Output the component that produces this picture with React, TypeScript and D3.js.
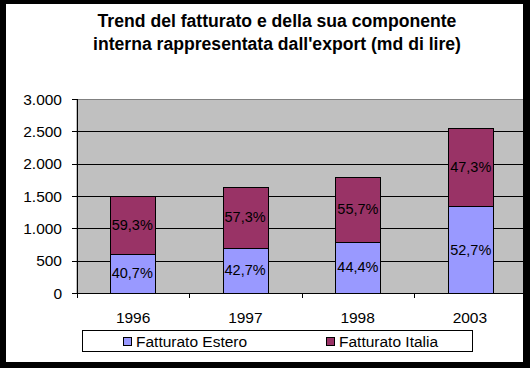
import React from "react";
import * as d3 from "d3";

const categories = ["1996", "1997", "1998", "2003"];
const estero = [610, 700, 795, 1344];
const italia = [890, 940, 995, 1206];
const esteroPct = ["40,7%", "42,7%", "44,4%", "52,7%"];
const italiaPct = ["59,3%", "57,3%", "55,7%", "47,3%"];
const yTicks = [0, 500, 1000, 1500, 2000, 2500, 3000];
const titleLines = [
  "Trend del fatturato e della sua componente",
  "interna rappresentata dall'export (md di lire)",
];
const seriesNames = ["Fatturato Estero", "Fatturato Italia"];
const colors = ["#9999FF", "#993366"];

const W = 530;
const H = 368;
const font = "'Liberation Sans', Arial, sans-serif";

export default function App() {
  const plotL = 77, plotR = 526, plotT = 99, plotB = 293;
  const x = d3.scaleBand<string>().domain(categories).range([plotL, plotR]).paddingInner(0.6).paddingOuter(0.29);
  const xc = d3.scaleBand<string>().domain(categories).range([plotL, plotR]);
  const y = d3.scaleLinear().domain([0, 3000]).range([plotB, plotT]);
  const fmt = (v: number) => d3.format(",")(v).replace(/,/g, ".");
  const stacks = categories.map((c, i) => {
    const e0 = 0, e1 = estero[i], i1 = estero[i] + italia[i];
    return { c, segs: [[e0, e1, esteroPct[i]], [e1, i1, italiaPct[i]]] as [number, number, string][] };
  });
  const fL = 6, fT = 4, fR = 523, fB = 362;
  return (
    <svg width={W} height={H} style={{ position: "absolute", left: 0, top: 0 }} fontFamily={font}>
      <rect x={0} y={0} width={W} height={H} fill="#fff" />
      {titleLines.map((t, i) => (
        <text key={i} x={277} y={27 + i * 23} textAnchor="middle" fontWeight="bold" fontSize={17.6} fill="#000">{t}</text>
      ))}
      <rect x={plotL} y={plotT + 0.5} width={plotR - plotL + 4} height={plotB - plotT} fill="#C0C0C0" stroke="#808080" strokeWidth={1} />
      {yTicks.filter(v => v > 0 && v < 3000).map(v => (
        <line key={v} x1={plotL} x2={plotR} y1={Math.round(y(v)) + 0.5} y2={Math.round(y(v)) + 0.5} stroke="#000" />
      ))}
      {stacks.map((s, i) => s.segs.map((g, j) => (
        <g key={i + "-" + j}>
          <rect x={Math.round(x(s.c)!) + 0.5} y={Math.round(y(g[1])) + 0.5} width={Math.round(x.bandwidth())}
            height={Math.round(y(g[0])) - Math.round(y(g[1]))} fill={colors[j]} stroke="#000" />
          <text x={x(s.c)! + x.bandwidth() / 2} y={(y(g[0]) + y(g[1])) / 2 + 5} textAnchor="middle" fontSize={14.5} fill="#000">{g[2]}</text>
        </g>
      )))}
      <line x1={plotL + 0.5} x2={plotL + 0.5} y1={plotT} y2={plotB} stroke="#000" />
      <line x1={plotL} x2={plotR} y1={plotB + 0.5} y2={plotB + 0.5} stroke="#000" />
      {yTicks.map(v => (
        <g key={v}>
          <line x1={plotL - 5} x2={plotL} y1={Math.round(y(v)) + 0.5} y2={Math.round(y(v)) + 0.5} stroke="#000" />
          <text x={62} y={y(v) + 5.5} textAnchor="end" fontSize={15.5} fill="#000">{fmt(v)}</text>
        </g>
      ))}
      {categories.map((c, i) => (
        <g key={c}>
          <line x1={Math.round(xc(c)!) + 0.5} x2={Math.round(xc(c)!) + 0.5} y1={plotB} y2={plotB + 5} stroke="#000" />
          <text x={xc(c)! + xc.bandwidth() / 2} y={322.5} textAnchor="middle" fontSize={15.5} fill="#000">{c}</text>
        </g>
      ))}
      <rect x={82.5} y={330.5} width={390} height={21} fill="#fff" stroke="#000" />
      {seriesNames.map((n, i) => {
        const lx = [123, 326][i];
        return (
          <g key={n}>
            <rect x={lx + 0.5} y={337.5} width={8} height={8} fill={colors[i]} stroke="#000" />
            <text x={lx + 13} y={346.5} fontSize={15.5} fill="#000">{n}</text>
          </g>
        );
      })}
      <path d={`M0,0H${W}V${H}H0Z M${fL},${fT}V${fB}H${fR}V${fT}Z`} fill="#000" fillRule="evenodd" />
    </svg>
  );
}
